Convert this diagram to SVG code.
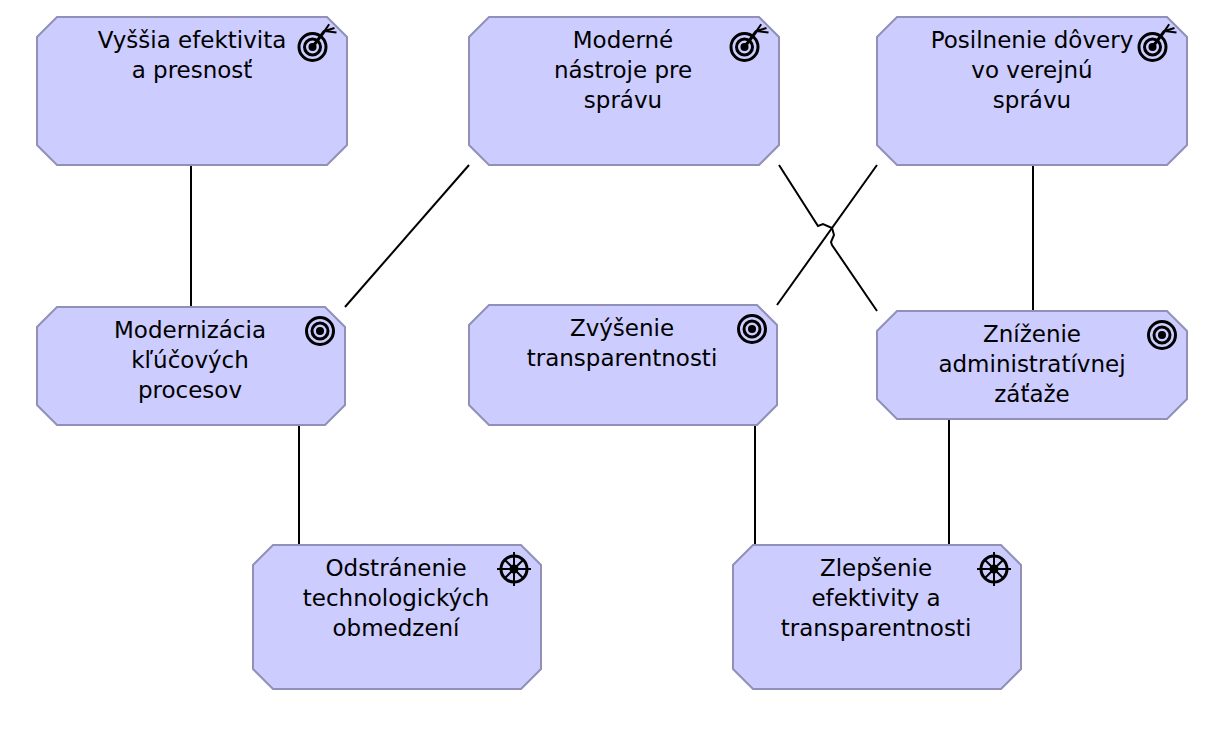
<svg xmlns="http://www.w3.org/2000/svg" width="1212" height="734" viewBox="0 0 1212 734">
<defs>
<style>
.n{fill:#ccccff;stroke:#9090b8;stroke-width:2}
.t{font-family:"DejaVu Sans",sans-serif;font-size:23px;fill:#000;text-anchor:middle}
.c{fill:none;stroke:#000;stroke-width:2}
.i{fill:none;stroke:#000;stroke-width:3}
.d{fill:#000}
</style>
<g id="goal">
<circle class="i" cx="0" cy="0" r="13.500"/><circle class="i" cx="0" cy="0" r="8"/><circle class="d" cx="0" cy="0" r="4"/>
</g>
<g id="target">
<use href="#goal"/>
<path class="i" d="M0 0L12-16"/>
<path class="c" d="M16.700-22.700L12-16L24-14.400M12-16L22-19"/>
</g>
<g id="wheel">
<circle class="i" cx="0" cy="0" r="13"/><circle class="d" cx="0" cy="0" r="4.500"/>
<path class="c" d="M-17 0H17M0-17V17M-9.500-9.500L9.500 9.500M-9.500 9.500L9.500-9.500"/>
</g>
</defs>
<rect width="1212" height="734" fill="#fff"/>
<g id="connectors">
<path class="c" d="M191 165V307"/>
<path class="c" d="M469 165L345 307"/>
<path class="c" d="M299 425V545"/>
<path class="c" d="M877 165L777 305"/>
<path class="c" d="M779 165L818 226L823 224L832 228L834 235L831 242L832 245L877 311"/>
<path class="c" d="M1033 165V311"/>
<path class="c" d="M755 425V545"/>
<path class="c" d="M949 419V545"/>
</g>
<g id="n1"><path class="n" d="M57 17H327L347 37V145L327 165H57L37 145V37Z"/><text class="t" x="192" y="47.500">Vyššia efektivita</text><text class="t" x="192" y="77.500">a presnosť</text><use href="#target" x="312.500" y="47"/></g>
<g id="n2"><path class="n" d="M489 17H759L779 37V145L759 165H489L469 145V37Z"/><text class="t" x="623" y="47.500">Moderné</text><text class="t" x="623" y="77.500">nástroje pre</text><text class="t" x="623" y="107.500">správu</text><use href="#target" x="744.500" y="47"/></g>
<g id="n3"><path class="n" d="M897 17H1167L1187 37V145L1167 165H897L877 145V37Z"/><text class="t" x="1032" y="47.500">Posilnenie dôvery</text><text class="t" x="1032" y="77.500">vo verejnú</text><text class="t" x="1032" y="107.500">správu</text><use href="#target" x="1152.500" y="47"/></g>
<g id="n4"><path class="n" d="M57 307H325L345 327V405L325 425H57L37 405V327Z"/><text class="t" x="190" y="337.500">Modernizácia</text><text class="t" x="190" y="367.500">kľúčových</text><text class="t" x="190" y="397.500">procesov</text><use href="#goal" x="320" y="331"/></g>
<g id="n5"><path class="n" d="M489 305H757L777 325V405L757 425H489L469 405V325Z"/><text class="t" x="622" y="335.500">Zvýšenie</text><text class="t" x="622" y="365.500">transparentnosti</text><use href="#goal" x="752" y="329"/></g>
<g id="n6"><path class="n" d="M897 311H1167L1187 331V399L1167 419H897L877 399V331Z"/><text class="t" x="1032" y="341.500">Zníženie</text><text class="t" x="1032" y="371.500">administratívnej</text><text class="t" x="1032" y="401.500">záťaže</text><use href="#goal" x="1162" y="335"/></g>
<g id="n7"><path class="n" d="M273 545H521L541 565V669L521 689H273L253 669V565Z"/><text class="t" x="396" y="575.500">Odstránenie</text><text class="t" x="396" y="605.500">technologických</text><text class="t" x="396" y="635.500">obmedzení</text><use href="#wheel" x="514" y="569"/></g>
<g id="n8"><path class="n" d="M753 545H1001L1021 565V669L1001 689H753L733 669V565Z"/><text class="t" x="876" y="575.500">Zlepšenie</text><text class="t" x="876" y="605.500">efektivity a</text><text class="t" x="876" y="635.500">transparentnosti</text><use href="#wheel" x="994" y="569"/></g>
</svg>
